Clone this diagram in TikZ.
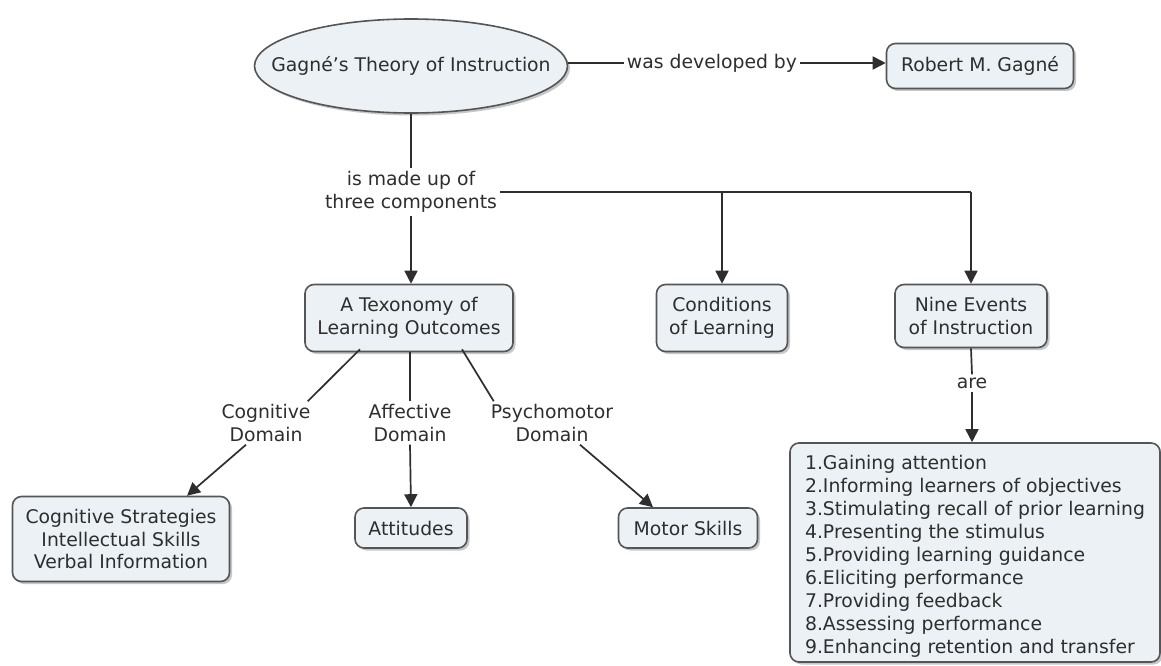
\documentclass[tikz,border=0pt]{standalone}
\usepackage{fontspec}
\setmainfont{DejaVu Sans}
\usetikzlibrary{arrows.meta,shapes.geometric,shadows}
\definecolor{boxfill}{HTML}{EBF1F4}
\definecolor{boxline}{HTML}{555555}
\definecolor{ink}{HTML}{2E2E2E}
\begin{document}
\begin{tikzpicture}[x=1pt,y=-1pt,
  font=\fontsize{18.8}{22.5}\selectfont, text=ink,
  concept/.style={draw=boxline, line width=1.6pt, fill=boxfill, rounded corners=9pt,
    align=center, inner xsep=8pt, inner ysep=4pt,
    drop shadow={shadow xshift=2.5pt, shadow yshift=-2.5pt, fill=black, opacity=0.22}},
  link/.style={align=center, inner sep=3pt},
  conn/.style={draw=ink, line width=1.7pt},
  arr/.style={conn, -{Triangle[length=13pt,width=13pt]}}
]
\useasboundingbox[fill=white] (0,0) rectangle (1161,666);

% concepts
\node[concept, ellipse, inner xsep=-30pt, inner ysep=0pt, minimum width=313pt, minimum height=94pt] (theory) at (411,66) {Gagné's Theory of Instruction};
\node[concept, minimum width=187pt, minimum height=45pt] (robert) at (980,66) {Robert M. Gagné};
\node[concept, minimum width=208pt, minimum height=67pt] (tax) at (409,318) {A Texonomy of\\Learning Outcomes};
\node[concept, minimum width=131pt, minimum height=67pt] (cond) at (722,318) {Conditions\\of Learning};
\node[concept, minimum width=152pt, minimum height=63pt] (nine) at (971,316) {Nine Events\\of Instruction};
\node[concept, minimum width=217pt, minimum height=85pt] (cstrat) at (121,539) {Cognitive Strategies\\Intellectual Skills\\Verbal Information};
\node[concept, minimum width=112pt, minimum height=40pt] (att) at (411,528) {Attitudes};
\node[concept, minimum width=139pt, minimum height=40pt] (motor) at (688,528) {Motor Skills};
\node[concept, minimum width=370pt, minimum height=219pt, font=\fontsize{18.8}{23}\selectfont] (events) at (975,552.5)
  {\raisebox{-4pt}[\height][\depth]{\begin{tabular}{@{}l@{}}
   1.Gaining attention\\2.Informing learners of objectives\\3.Stimulating recall of prior learning\\4.Presenting the stimulus\\5.Providing learning guidance\\6.Eliciting performance\\7.Providing feedback\\8.Assessing performance\\9.Enhancing retention and transfer
   \end{tabular}}};

% linking phrases
\node[link] (dev) at (712,63) {was developed by};
\node[link] (made) at (411,192) {is made up of\\three components};
\node[link] (cog) at (266,423) {Cognitive\\Domain};
\node[link] (aff) at (410,423) {Affective\\Domain};
\node[link] (psy) at (552,423) {Psychomotor\\Domain};
\node[link] (are) at (972,383) {are};

% connectors
\draw[conn] (theory.east |- dev) -- (dev.west);
\draw[arr] (dev.east) -- (dev.east -| robert.west);
\draw[conn] (theory.south) -- (theory.south |- made.north);
\draw[arr] (made.south) -- (made.south |- tax.north);
\draw[conn] (made.east) -- (made.east -| nine.north);
\draw[arr] (made.east -| cond.north) -- (cond.north);
\draw[arr] (made.east -| nine.north) -- (nine.north);
\draw[conn] (nine.south) -- (are.north);
\draw[arr] (are.south) -- (are.south |- events.north);

\draw[conn] ([xshift=-49pt,yshift=3pt]tax.south) -- ([xshift=-6pt]cog.north east);
\draw[arr] ([xshift=-20pt]cog.south) -- ([xshift=66pt]cstrat.north);
\draw[conn] (tax.south -| aff) -- (aff.north);
\draw[arr] (aff.south) -- (att.north);
\draw[conn] ([xshift=53pt,yshift=3pt]tax.south) -- ([xshift=6pt]psy.north west);
\draw[arr] ([xshift=28pt]psy.south) -- ([xshift=-35pt]motor.north);
\end{tikzpicture}
\end{document}
